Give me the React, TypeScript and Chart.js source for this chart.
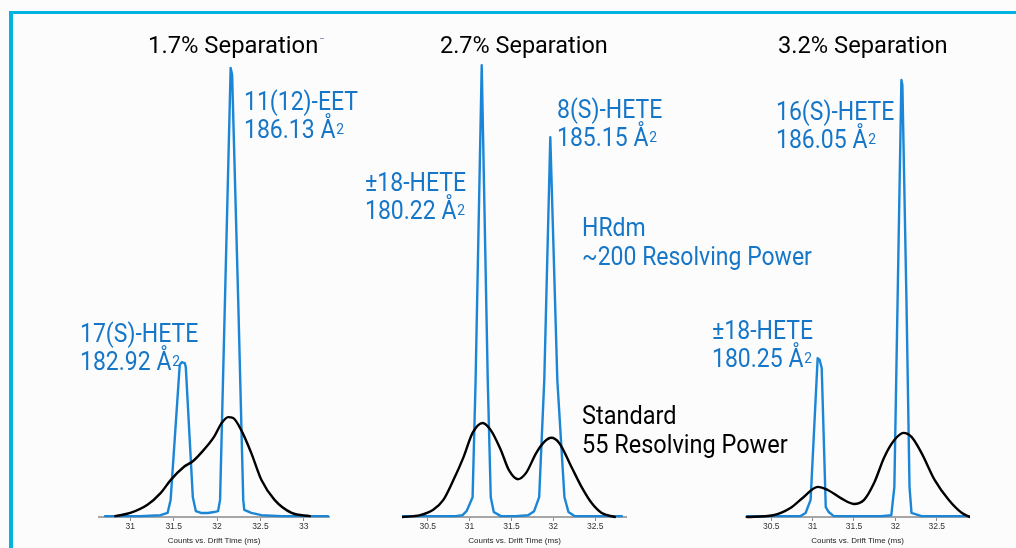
import React, { useEffect, useRef } from 'react';
import { Chart, registerables } from 'chart.js';

Chart.register(...registerables);

// ---------- data (drift time in ms, relative counts) ----------
const ticks1 = [31, 31.5, 32, 32.5, 33];
const ticks2 = [30.5, 31, 31.5, 32, 32.5];
const ticks3 = [30.5, 31, 31.5, 32, 32.5];

const p1BlueX = [30.709, 31.116, 31.349, 31.43, 31.465, 31.57, 31.593, 31.628, 31.64, 31.721, 31.756, 31.814, 31.895, 31.965, 32.012, 32.035, 32.157, 32.174, 32.244, 32.302, 32.314, 32.395, 32.512, 32.744, 33.279];
const p1BlueY = [0.2, 0.2, 0.4, 0.9, 3.8, 33.8, 34.4, 34.2, 33.3, 4.4, 1.3, 0.9, 0.9, 1.1, 1.3, 3.8, 99.8, 98.2, 48.2, 3.8, 1.6, 0.9, 0.4, 0.2, 0.2];
const p1BlackX = [30.826, 31.0, 31.198, 31.349, 31.465, 31.616, 31.721, 31.814, 31.965, 32.047, 32.128, 32.186, 32.279, 32.395, 32.512, 32.663, 32.86, 33.07];
const p1BlackY = [0.2, 0.9, 2.7, 5.3, 8.2, 11.1, 12.4, 14.2, 17.8, 20.7, 22.2, 22.0, 19.3, 14.2, 8.2, 3.8, 0.9, 0.2];

const p2BlueX = [30.193, 30.651, 30.831, 30.916, 30.964, 31.036, 31.072, 31.145, 31.217, 31.253, 31.289, 31.373, 31.554, 31.699, 31.771, 31.831, 31.892, 31.964, 32.048, 32.133, 32.181, 32.253, 32.458, 32.819];
const p2BlueY = [0.2, 0.2, 0.2, 0.4, 1.3, 4.4, 30.4, 100.4, 30.4, 4.4, 1.1, 0.2, 0.2, 0.4, 1.3, 4.4, 30.4, 84.4, 30.4, 4.4, 1.1, 0.2, 0.2, 0.2];
const p2BlackX = [30.193, 30.41, 30.566, 30.687, 30.807, 30.928, 31.036, 31.157, 31.253, 31.373, 31.47, 31.578, 31.675, 31.795, 31.892, 31.976, 32.072, 32.217, 32.337, 32.458, 32.578, 32.735];
const p2BlackY = [0, 0.4, 1.6, 3.8, 8.2, 13.3, 18.7, 20.9, 19.3, 14.9, 10.4, 8.4, 9.8, 14.2, 16.7, 17.6, 16.4, 11.1, 6.7, 3.1, 0.9, 0];

const p3BlueX = [30.207, 30.732, 30.854, 30.915, 30.976, 31.061, 31.085, 31.11, 31.159, 31.195, 31.256, 31.585, 31.829, 31.951, 31.988, 32.073, 32.085, 32.134, 32.171, 32.195, 32.317, 32.89];
const p3BlueY = [0.2, 0.2, 0.2, 0.9, 3.8, 35.3, 34.9, 33.1, 2.2, 1.1, 0.2, 0.2, 0.2, 0.4, 6.7, 97.1, 96.0, 48.2, 6.7, 0.9, 0.2, 0.2];
const p3BlackX = [30.207, 30.524, 30.732, 30.89, 31.061, 31.183, 31.341, 31.5, 31.622, 31.744, 31.866, 31.988, 32.098, 32.195, 32.317, 32.476, 32.646, 32.805, 32.902];
const p3BlackY = [0, 0.4, 2.0, 4.4, 6.7, 6.0, 4.2, 2.9, 3.8, 7.6, 13.3, 17.1, 18.7, 17.8, 14.2, 8.2, 3.8, 0.9, 0];

const titles = ['1.7% Separation', '2.7% Separation', '3.2% Separation'];
const axisTitle = 'Counts vs. Drift Time (ms)';

// ---------- styles ----------
const BLUE_LINE = '#1c86d6';
const BLUE_TEXT = '#1676c8';
const CYAN = '#00b4e2';
const FONT = "Roboto, 'Liberation Sans', sans-serif";

const pts = (xs: number[], ys: number[]) => xs.map((x, i) => ({ x, y: ys[i] }));

type PanelProps = {
  left: number;
  width: number;
  min: number;
  max: number;
  ticks: number[];
  blueX: number[];
  blueY: number[];
  blackX: number[];
  blackY: number[];
};

const TOP = 58;
const HEIGHT = 490;

function Panel(p: PanelProps) {
  const ref = useRef<HTMLCanvasElement | null>(null);
  useEffect(() => {
    if (!ref.current) return;
    const chart = new Chart(ref.current, {
      type: 'line',
      data: {
        datasets: [
          {
            data: pts(p.blackX, p.blackY),
            borderColor: '#000000',
            borderWidth: 2.4,
            borderJoinStyle: 'round',
            borderCapStyle: 'round',
            pointRadius: 0,
            cubicInterpolationMode: 'monotone',
            fill: false,
            clip: false as any,
          },
          {
            data: pts(p.blueX, p.blueY),
            borderColor: BLUE_LINE,
            borderWidth: 2.4,
            borderJoinStyle: 'round',
            borderCapStyle: 'round',
            pointRadius: 0,
            tension: 0,
            fill: false,
            clip: false as any,
          },
        ],
      },
      options: {
        animation: false,
        responsive: false,
        parsing: false as any,
        layout: { padding: 0 },
        plugins: { legend: { display: false }, tooltip: { enabled: false }, title: { display: false } },
        scales: {
          x: {
            type: 'linear',
            min: p.min,
            max: p.max,
            afterBuildTicks: (axis: any) => {
              axis.ticks = p.ticks.map((v) => ({ value: v }));
            },
            afterFit: (scale: any) => {
              scale.height = 31;
            },
            grid: { display: true, drawOnChartArea: false, drawTicks: true, tickLength: 4, color: '#8c8c8c', lineWidth: 1 },
            border: { display: true, color: '#a6a6a6', width: 2 },
            ticks: {
              autoSkip: false,
              maxRotation: 0,
              padding: 1,
              color: '#333333',
              font: { family: "'Liberation Sans', Arial, sans-serif", size: 8.5 },
              callback: (v: any) => String(v),
            },
            title: {
              display: true,
              text: axisTitle,
              color: '#222222',
              font: { family: "'Liberation Sans', Arial, sans-serif", size: 8 },
              padding: { top: 2, bottom: 2 },
            },
          },
          y: { display: false, min: 0, max: 102 },
        },
      },
    } as any);
    return () => chart.destroy();
  }, []);
  return (
    <canvas
      ref={ref}
      width={p.width}
      height={HEIGHT}
      style={{ position: 'absolute', left: p.left, top: TOP, width: p.width, height: HEIGHT }}
    />
  );
}

function Label({
  x,
  capTop,
  lines,
  color,
  size = 25,
  gap = 28,
  sx = 0.92,
  off = 5,
}: {
  x: number;
  capTop: number;
  lines: React.ReactNode[];
  color: string;
  size?: number;
  gap?: number;
  sx?: number;
  off?: number;
}) {
  return (
    <div
      style={{
        position: 'absolute',
        left: x,
        top: capTop - off,
        fontFamily: FONT,
        fontSize: size,
        lineHeight: gap + 'px',
        color,
        whiteSpace: 'nowrap',
        transform: `scaleX(${sx})`,
        transformOrigin: 'left top',
      }}
    >
      {lines.map((l, i) => (
        <div key={i}>{l}</div>
      ))}
    </div>
  );
}

const A2 = (v: string) => (
  <span>
    {v} Å<sup style={{ fontSize: '60%', verticalAlign: 'top', position: 'relative', top: -1, marginLeft: 1 }}>2</sup>
  </span>
);

export default function App() {
  return (
    <div style={{ position: 'fixed', left: 0, top: 0, width: 1016, height: 548, background: '#fcfcfc', overflow: 'hidden' }}>
      <div style={{ position: 'absolute', left: 9, top: 11, width: 1016, height: 548, borderTop: `3px solid ${CYAN}`, borderLeft: `4px solid ${CYAN}` }} />

      <Panel left={98} width={232} min={30.628} max={33.302} ticks={ticks1} blueX={p1BlueX} blueY={p1BlueY} blackX={p1BlackX} blackY={p1BlackY} />
      <Panel left={402} width={225} min={30.193} max={32.88} ticks={ticks2} blueX={p2BlueX} blueY={p2BlueY} blackX={p2BlackX} blackY={p2BlackY} />
      <Panel left={745} width={225} min={30.183} max={32.902} ticks={ticks3} blueX={p3BlueX} blueY={p3BlueY} blackX={p3BlackX} blackY={p3BlackY} />

      <Label x={148} capTop={37} size={23} gap={26} sx={1.035} off={4} color="#000" lines={[titles[0]]} />
      <div style={{ position: 'absolute', left: 320, top: 38, width: 4, height: 1, background: '#9098b8' }} />
      <Label x={440} capTop={37} size={23} gap={26} sx={1.02} off={4} color="#000" lines={[titles[1]]} />
      <Label x={778} capTop={37} size={23} gap={26} sx={1.03} off={4} color="#000" lines={[titles[2]]} />

      <Label x={244} capTop={93} color={BLUE_TEXT} lines={['11(12)-EET', A2('186.13')]} />
      <Label x={80} capTop={325} color={BLUE_TEXT} lines={['17(S)-HETE', A2('182.92')]} />
      <Label x={365} capTop={174} color={BLUE_TEXT} lines={['±18-HETE', A2('180.22')]} />
      <Label x={557} capTop={101} color={BLUE_TEXT} lines={['8(S)-HETE', A2('185.15')]} />
      <Label x={582} capTop={218} gap={29} color={BLUE_TEXT} lines={['HRdm', '~200 Resolving Power']} />
      <Label x={582} capTop={406} gap={29} sx={0.94} color="#000" lines={['Standard', '55 Resolving Power']} />
      <Label x={776} capTop={103} color={BLUE_TEXT} lines={['16(S)-HETE', A2('186.05')]} />
      <Label x={712} capTop={322} color={BLUE_TEXT} lines={['±18-HETE', A2('180.25')]} />
    </div>
  );
}
